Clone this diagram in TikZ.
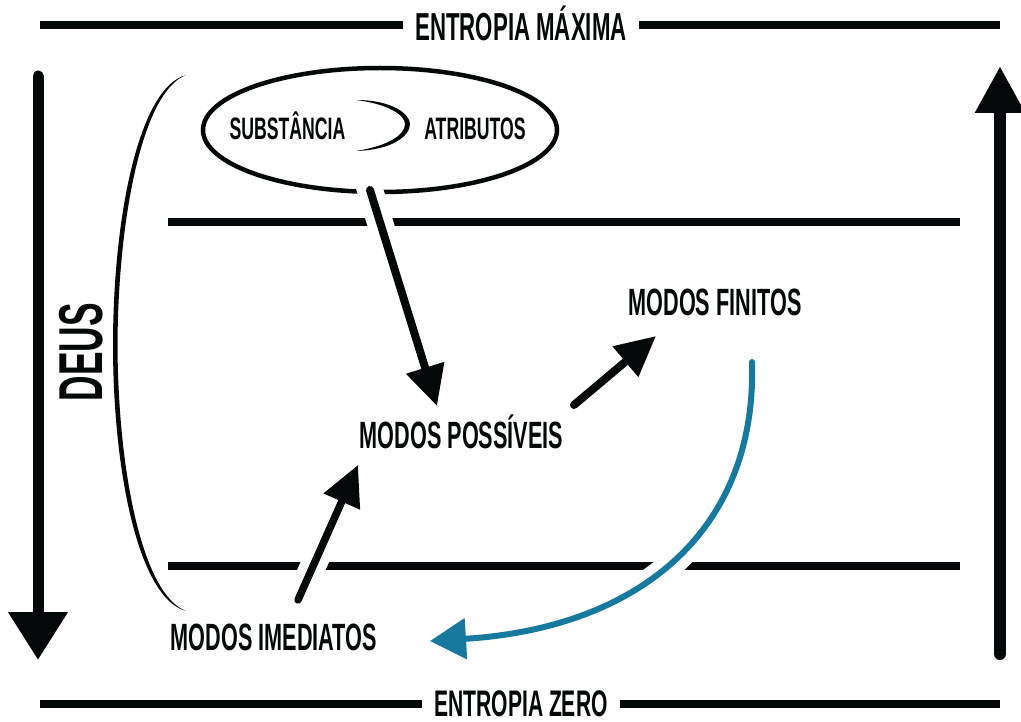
\documentclass[tikz,border=0pt]{standalone}
\usepackage{fontspec}
\newfontfamily\cond{Liberation Sans}[FakeStretch=0.57]
\usetikzlibrary{arrows.meta,shapes.geometric}
\definecolor{ink}{HTML}{050808}
\definecolor{azul}{HTML}{17799E}
\begin{document}
\begin{tikzpicture}[x=1pt,y=-1pt,
  lbl/.style={font=\cond\bfseries\fontsize{#1}{#1}\selectfont, text=ink, inner sep=0pt, anchor=base},
  bar/.style={line width=8.5pt, ink},
  shaft/.style={line width=8pt, ink, line cap=round, -{Triangle[length=40pt,width=38pt]}},
  halo/.style={line width=26pt, white},
]
\useasboundingbox (0,0) rectangle (1021,722);
% level lines
\coordinate (tl) at (40,25);   \coordinate (tr) at (1000,25);
\coordinate (bl) at (40,704);  \coordinate (br) at (1000,704);
\coordinate (m1l) at (168,222); \coordinate (m1r) at (960,222);
\coordinate (m2l) at (168,566); \coordinate (m2r) at (960,566);
\draw[bar] (tl) -- (tr);
\draw[bar] (bl) -- (br);
\draw[bar] (m1l) -- (m1r);
\draw[bar] (m2l) -- (m2r);
\node[lbl=39pt, fill=white, inner xsep=12pt] (emax) at (521,41) {ENTROPIA MÁXIMA};
\node[lbl=37pt, fill=white, inner xsep=12pt] (ezero) at (521,716) {ENTROPIA ZERO};
% side arrows
\coordinate (ls) at (38,76); \coordinate (le) at (38,660);
\draw[ink, line width=11pt, line cap=round, -{Triangle[length=48pt,width=57pt]}] (ls) -- (le);
\coordinate (rs) at (1000,654); \coordinate (re) at (1000,66);
\draw[ink, line width=12pt, line cap=round, -{Triangle[length=47pt,width=47pt]}] (rs) -- (re);
\node[lbl=62pt, rotate=90] (deus) at (102,352) {DEUS};
% bracket
\fill[ink] (186,75) .. controls (138,88) and (113,220) .. (113,345)
  .. controls (113,470) and (138,598) .. (186,611)
  .. controls (142,594) and (118,470) .. (117.5,345)
  .. controls (118,220) and (142,92) .. cycle;
% ellipse with substance / attributes
\node[draw=ink, line width=4.5pt, ellipse, minimum width=354pt, minimum height=124pt, inner sep=0pt] (sub) at (380,130) {};
\node[lbl=31pt] (subst) at (287.5,140) {SUBSTÂNCIA};
\node[lbl=31pt] (atr) at (475,140) {ATRIBUTOS};
\fill[ink] (356,100) .. controls (392,100) and (410,114) .. (410,124)
  .. controls (410,136) and (392,150) .. (356,151)
  .. controls (388,146) and (405,135) .. (405,124)
  .. controls (405,115) and (388,104) .. cycle;
% text nodes
\node[lbl=38pt] (mp) at (461.5,448) {MODOS POSSÍVEIS};
\node[lbl=38pt] (mf) at (715,316) {MODOS FINITOS};
\node[lbl=38pt] (mi) at (274,650) {MODOS IMEDIATOS};
% arrow coordinates
\coordinate (a1s) at (370,190); \coordinate (a1m) at (410,320); \coordinate (a1e) at (437,406);
\coordinate (a2s) at (574,405); \coordinate (a2e) at (656,336);
\coordinate (a3s) at (298,600); \coordinate (a3m) at (330,528); \coordinate (a3e) at (358,465);
\coordinate (b1) at (752,362); \coordinate (b2) at (430,641);
% halos (gaps in lines)
\draw[halo, shorten <=-7pt] (a1s) -- (a1m);
\draw[halo] (a3s) -- (a3m);
\draw[halo, shorten >=40pt] (b1) .. controls (757,530) and (640,628) .. (b2);
% arrows
\draw[shaft] (a1s) -- (a1e);
\draw[shaft] (a2s) -- (a2e);
\draw[shaft, line width=7.5pt] (a3s) -- (a3e);
\draw[azul, line width=6pt, line cap=round, -{Triangle[length=36pt,width=40pt]}] (b1) .. controls (757,530) and (640,628) .. (b2);
\end{tikzpicture}
\end{document}
